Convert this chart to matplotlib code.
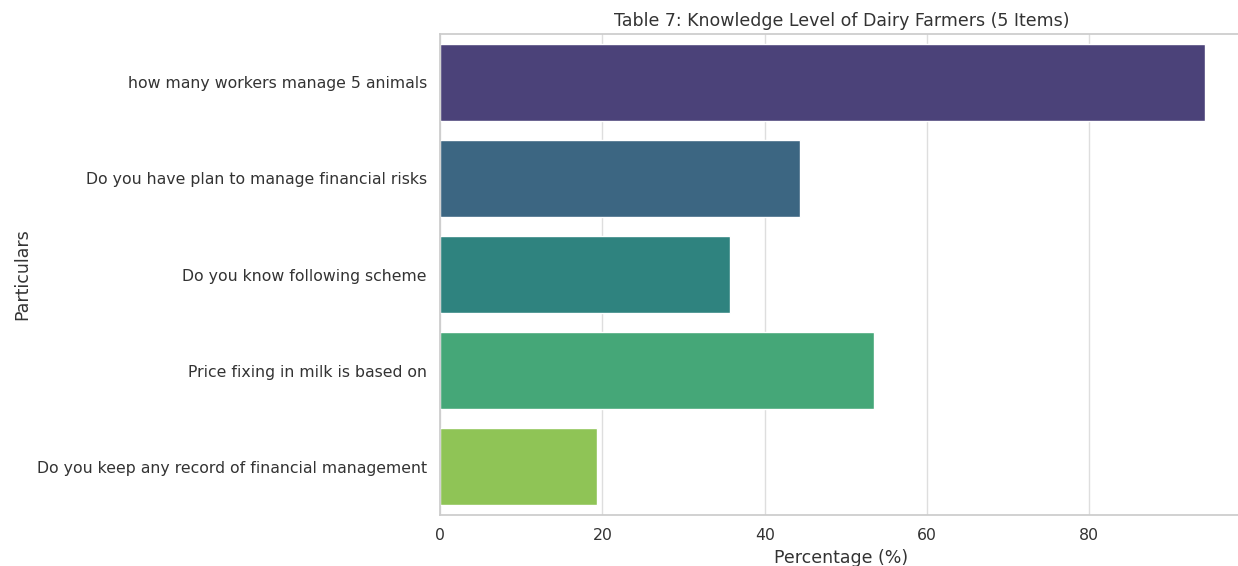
import matplotlib
matplotlib.use("Agg")
import matplotlib.pyplot as plt
import seaborn as sns
import pandas as pd

# data
particulars = [
    "how many workers manage 5 animals",
    "Do you have plan to manage financial risks",
    "Do you know following scheme",
    "Price fixing in milk is based on",
    "Do you keep any record of financial management",
]
percentages = [94.2, 44.4, 35.7, 53.5, 19.3]

df = pd.DataFrame({"Particulars": particulars, "Percentage": percentages})

sns.set_theme(style="whitegrid", rc={"grid.color": "#dedede",
                                     "text.color": "#333333",
                                     "axes.labelcolor": "#333333",
                                     "xtick.color": "#333333",
                                     "ytick.color": "#333333"})
plt.rcParams['font.family'] = ['DejaVu Sans']

fig = plt.figure(figsize=(12.38, 5.66), dpi=100)
ax = fig.add_axes([0.3554, 0.090, 0.6485, 0.850])

sns.barplot(data=df, x="Percentage", y="Particulars", hue="Particulars",
            palette="viridis", legend=False, ax=ax)

ax.set_title("Table 7: Knowledge Level of Dairy Farmers (5 Items)", fontsize=12.5)
ax.set_xlabel("Percentage (%)", fontsize=12.5)
ax.set_ylabel("Particulars", fontsize=12.5)
ax.tick_params(labelsize=11.3)
# the right edge of the axes falls off the picture in the original
ax.spines['right'].set_visible(False)

fig.savefig("out.png", dpi=100)
